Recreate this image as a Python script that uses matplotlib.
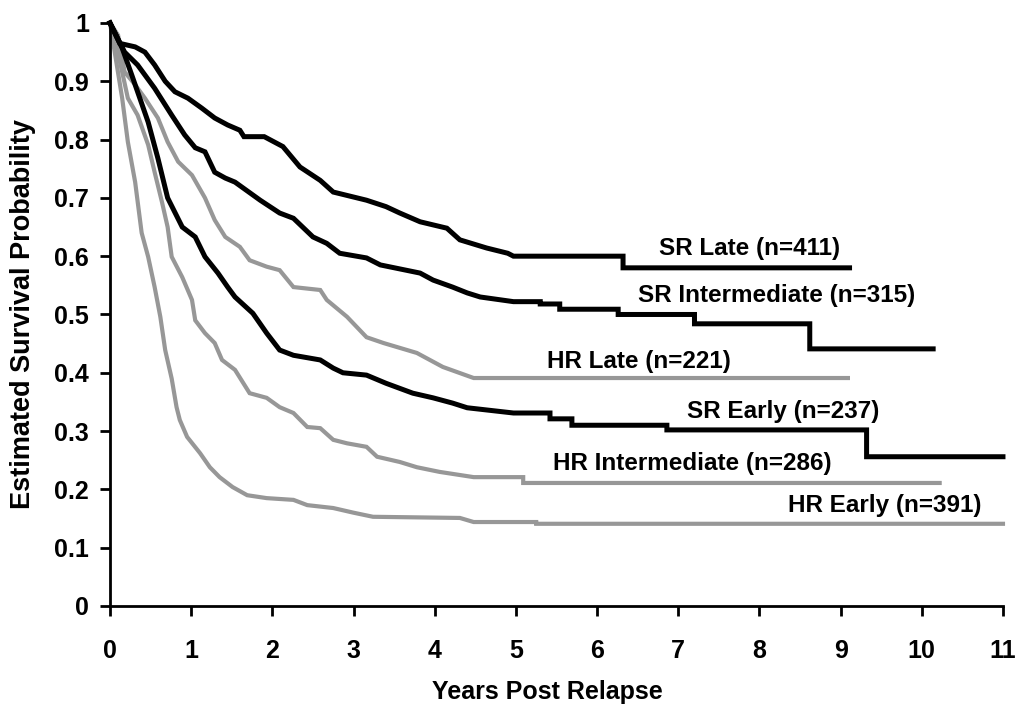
import matplotlib
matplotlib.use('Agg')
from matplotlib import pyplot as plt

# curve vertices (years post relapse, survival probability)
# repeated x values mark the visible vertical drops of the step curve
sr_late_t = [0, 0.12, 0.31, 0.43, 0.55, 0.68, 0.8, 0.96, 1.13, 1.29, 1.45, 1.6, 1.65, 1.9,
             2.13, 2.34, 2.59, 2.75, 3.16, 3.4, 3.57, 3.82, 4.15, 4.31, 4.64, 4.9, 4.97,
             6.32, 6.32, 9.11]
sr_late_s = [1, 0.965, 0.959, 0.95, 0.928, 0.9, 0.882, 0.871, 0.854, 0.837, 0.825, 0.816,
             0.805, 0.805, 0.788, 0.753, 0.73, 0.71, 0.696, 0.685, 0.674, 0.659, 0.648, 0.628,
             0.614, 0.605, 0.6, 0.6, 0.58, 0.58]

sr_int_t = [0, 0.18, 0.34, 0.55, 0.76, 0.92, 1.05, 1.17, 1.29, 1.42, 1.54, 1.85, 2.09, 2.26,
            2.5, 2.67, 2.83, 3.16, 3.33, 3.82, 3.98, 4.22, 4.4, 4.56, 4.97, 5.3, 5.3, 5.54,
            5.54, 6.26, 6.26, 7.2, 7.2, 8.62, 8.62, 10.14]
sr_int_s = [1, 0.95, 0.928, 0.888, 0.842, 0.808, 0.786, 0.779, 0.744, 0.734, 0.727, 0.696,
            0.674, 0.665, 0.633, 0.622, 0.605, 0.597, 0.585, 0.571, 0.559, 0.547, 0.537, 0.53,
            0.522, 0.522, 0.518, 0.518, 0.509, 0.509, 0.5, 0.5, 0.484, 0.484, 0.441, 0.441]

sr_early_t = [0, 0.15, 0.27, 0.34, 0.47, 0.59, 0.71, 0.89, 1.05, 1.17, 1.33, 1.45, 1.54, 1.76,
              1.93, 2.09, 2.26, 2.59, 2.75, 2.87, 3.16, 3.4, 3.73, 3.98, 4.22, 4.4, 4.97,
              5.42, 5.42, 5.69, 5.69, 6.86, 6.86, 9.32, 9.32, 11]
sr_early_s = [1, 0.957, 0.91, 0.882, 0.83, 0.768, 0.7, 0.65, 0.633, 0.599, 0.571, 0.547, 0.53,
              0.502, 0.468, 0.439, 0.43, 0.422, 0.408, 0.4, 0.396, 0.382, 0.365, 0.357, 0.348,
              0.34, 0.331, 0.331, 0.321, 0.321, 0.31, 0.31, 0.302, 0.302, 0.256, 0.256]

hr_late_t = [0, 0.1, 0.18, 0.31, 0.43, 0.59, 0.71, 0.84, 1.01, 1.17, 1.29, 1.42, 1.6, 1.72,
             1.93, 2.09, 2.26, 2.59, 2.67, 2.92, 3.16, 3.37, 3.78, 3.94, 4.1, 4.48, 9.09]
hr_late_s = [1, 0.979, 0.916, 0.894, 0.871, 0.837, 0.796, 0.762, 0.739, 0.7, 0.662, 0.633,
             0.616, 0.593, 0.582, 0.576, 0.547, 0.542, 0.525, 0.496, 0.461, 0.451, 0.434, 0.422,
             0.41, 0.391, 0.391]

hr_int_t = [0, 0.08, 0.15, 0.22, 0.34, 0.47, 0.55, 0.64, 0.71, 0.76, 0.89, 1.01, 1.05, 1.17,
            1.29, 1.38, 1.54, 1.72, 1.93, 2.09, 2.26, 2.43, 2.59, 2.75, 2.92, 3.16, 3.29, 3.57,
            3.78, 4.06, 4.48, 5.09, 5.09, 10.22]
hr_int_s = [1, 0.96, 0.916, 0.871, 0.842, 0.791, 0.744, 0.693, 0.65, 0.599, 0.564, 0.525,
            0.49, 0.468, 0.451, 0.422, 0.405, 0.365, 0.357, 0.341, 0.331, 0.307, 0.305, 0.285,
            0.279, 0.273, 0.256, 0.247, 0.238, 0.23, 0.221, 0.221, 0.211, 0.211]

hr_early_t = [0, 0.07, 0.15, 0.22, 0.31, 0.39, 0.47, 0.55, 0.62, 0.68, 0.76, 0.82, 0.86, 0.95,
              1.11, 1.23, 1.35, 1.51, 1.69, 1.93, 2.26, 2.43, 2.75, 3.0, 3.24, 4.31, 4.48,
              5.25, 5.25, 11]
hr_early_s = [1, 0.94, 0.871, 0.796, 0.727, 0.64, 0.599, 0.547, 0.496, 0.439, 0.39, 0.341,
              0.319, 0.29, 0.262, 0.238, 0.221, 0.204, 0.19, 0.185, 0.182, 0.173, 0.168, 0.16,
              0.153, 0.151, 0.144, 0.144, 0.141, 0.141]

# group labels and their centre positions in data units
labels = ['SR Late (n=411)', 'SR Intermediate (n=315)', 'HR Late (n=221)',
          'SR Early (n=237)', 'HR Intermediate (n=286)', 'HR Early (n=391)']
label_x = [7.88, 8.21, 6.52, 8.29, 7.17, 9.54]
label_y = [0.614, 0.533, 0.42, 0.333, 0.245, 0.172]

BLACK = '#000000'
GRAY = '#979797'

plt.rcParams['font.family'] = ['Liberation Sans', 'DejaVu Sans']
plt.rcParams['font.weight'] = 'bold'

fig = plt.figure(figsize=(10.27, 7.09), dpi=100)
ax = fig.add_axes([0.1071, 0.1453, 0.8695, 0.8223])

for t, s in [(hr_late_t, hr_late_s), (hr_int_t, hr_int_s), (hr_early_t, hr_early_s)]:
    ax.plot(t, s, color=GRAY, lw=3.0, clip_on=False, solid_joinstyle='miter')
for t, s in [(sr_late_t, sr_late_s), (sr_int_t, sr_int_s), (sr_early_t, sr_early_s)]:
    ax.plot(t, s, color=BLACK, lw=3.6, clip_on=False, solid_joinstyle='miter')

for txt, x, y in zip(labels, label_x, label_y):
    ax.text(x, y, txt, ha='center', va='center', fontsize=17.5, fontweight='bold')

ax.set_xlim(0, 11)
ax.set_ylim(0, 1)
ax.set_xticks(range(12))
ax.set_yticks([0, 0.1, 0.2, 0.3, 0.4, 0.5, 0.6, 0.7, 0.8, 0.9, 1])
ax.set_yticklabels(['0', '0.1', '0.2', '0.3', '0.4', '0.5', '0.6', '0.7', '0.8', '0.9', '1'])
ax.tick_params(axis='both', labelsize=18, width=2, length=7, color=BLACK)
ax.tick_params(axis='x', pad=17)
ax.tick_params(axis='y', pad=8)

for side in ['top', 'right']:
    ax.spines[side].set_visible(False)
for side in ['left', 'bottom']:
    ax.spines[side].set_linewidth(2)

ax.set_xlabel('Years Post Relapse', fontsize=18, fontweight='bold', va='center')
ax.set_ylabel('Estimated Survival Probability', fontsize=19.5, fontweight='bold', va='center')
ax.xaxis.set_label_coords(0.49, -0.1475)
ax.yaxis.set_label_coords(-0.0974, 0.5)

fig.savefig('out.png', dpi=100)
